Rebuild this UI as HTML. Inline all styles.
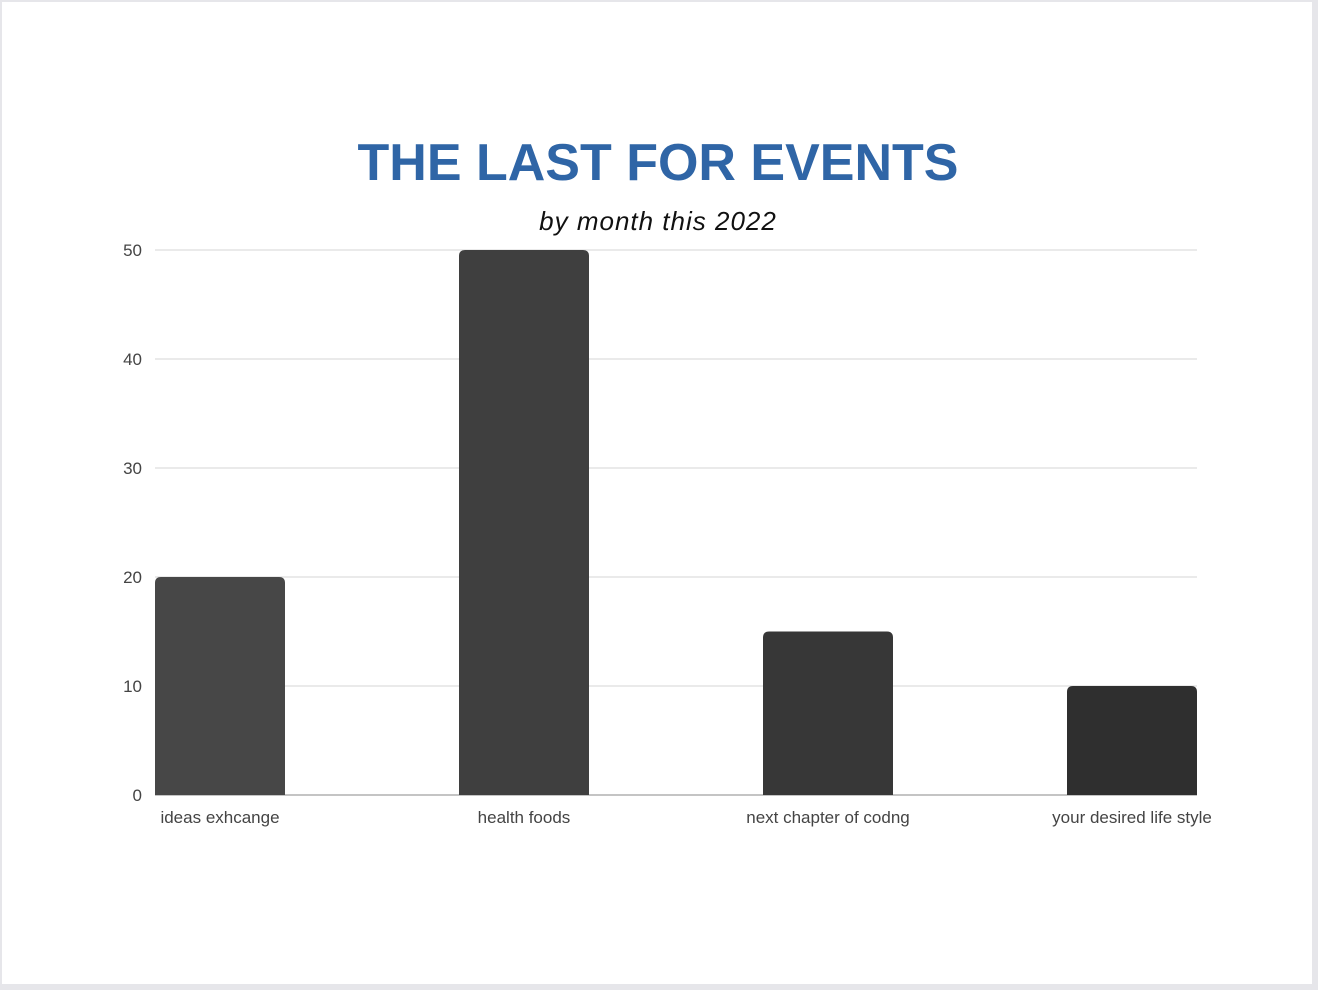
<!DOCTYPE html>
<html><head><meta charset="utf-8"><style>
html,body{margin:0;padding:0;background:#e6e6ea;}
#frame{position:absolute;left:2px;top:2px;width:1310px;height:982px;background:#fff;}
svg{position:absolute;left:0;top:0;}
</style></head><body>
<div id="frame"></div>
<svg id="chart" width="1318" height="990">
<text x="658" y="180" text-anchor="middle" font-family="Liberation Sans, sans-serif" font-weight="bold" font-size="52" fill="#2f65a6">THE LAST FOR EVENTS</text>
<text x="658" y="230" text-anchor="middle" font-family="Liberation Sans, sans-serif" font-style="italic" font-size="26" fill="#111" letter-spacing="1">by month this 2022</text>
<g id="grid"></g><g id="bars"></g><g id="labels"></g>
</svg>
<script>
const categories=["ideas exhcange","health foods","next chapter of codng","your desired life style"];
const values=[20,50,15,10];
const ticks=[0,10,20,30,40,50];
const colors=["#474747","#3f3f3f","#373737","#2f2f2f"];
const NS="http://www.w3.org/2000/svg";
const x0=155,x1=1197,y0=795,y1=250,maxV=50;
const y=v=>y0-(v/maxV)*(y0-y1);
const bw=130, band=(x1-x0-bw)/3;
const bx=i=>x0+i*band;
function mk(t,a){const e=document.createElementNS(NS,t);for(const k in a)e.setAttribute(k,a[k]);return e;}
const grid=document.getElementById('grid'),bars=document.getElementById('bars'),labels=document.getElementById('labels');
ticks.forEach(t=>{
  const l=mk('line',{x1:x0,x2:x1,y1:y(t),y2:y(t),stroke:t===0?'#888':'#d6d6d6','stroke-width':1});
  
  
  grid.appendChild(l);
  const tx=mk('text',{x:142,y:y(t)+6,'text-anchor':'end','font-family':'Liberation Sans, sans-serif','font-size':17,fill:'#444'});
  tx.textContent=t;
  
  
  grid.appendChild(tx);
});
categories.forEach((c,i)=>{
  const top=y(values[i]);
  const p=mk('path',{d:`M${bx(i)},${y0}V${top+6}Q${bx(i)},${top} ${bx(i)+6},${top}H${bx(i)+bw-6}Q${bx(i)+bw},${top} ${bx(i)+bw},${top+6}V${y0}Z`,fill:colors[i]});
  
  
  bars.appendChild(p);
  const t=mk('text',{x:bx(i)+bw/2,y:823,'text-anchor':'middle','font-family':'Liberation Sans, sans-serif','font-size':17,fill:'#444'});
  t.textContent=c;
  
  
  labels.appendChild(t);
});
</script>
</body></html>
